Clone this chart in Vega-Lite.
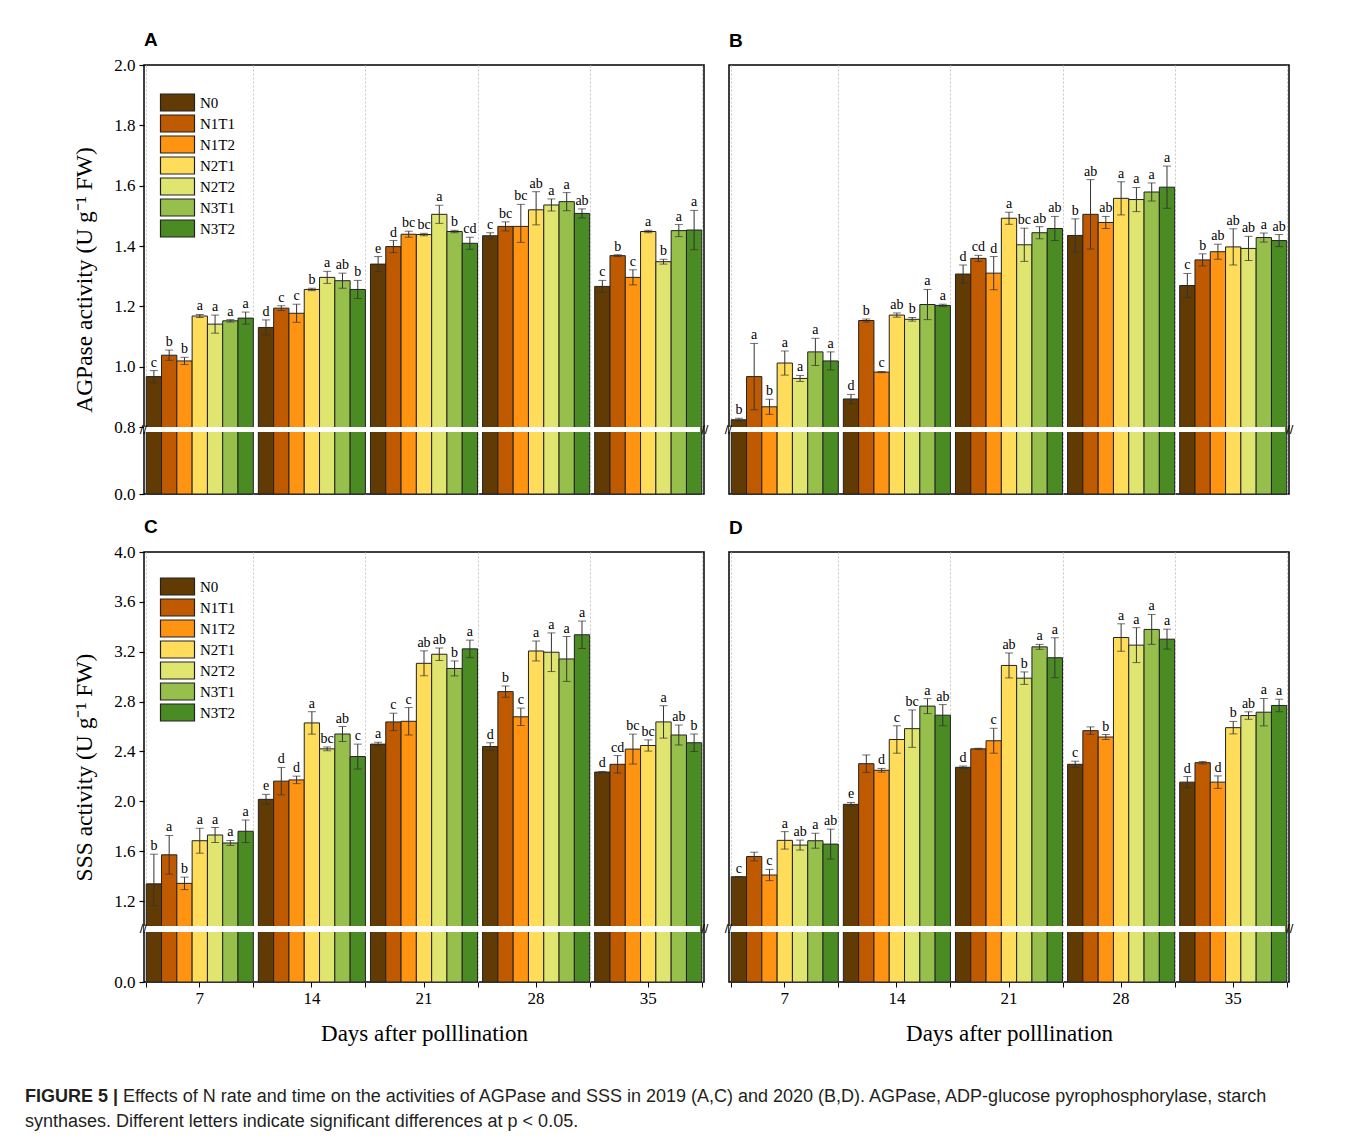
{
"$schema": "https://vega.github.io/schema/vega-lite/v6.json",
"padding": {"left": 25, "top": 30, "right": 5, "bottom": 5},
"config": {"view": {"stroke": "black", "strokeWidth": 1.5}, "font": "Liberation Serif"},
"title": {"text": "FIGURE 5 |", "orient": "bottom", "anchor": "start", "frame": "bounds", "font": "Liberation Sans", "fontSize": 18, "fontWeight": "bold", "color": "#231f20", "offset": 0, "dy": -43, "dx": 0},
"resolve": {"scale": {"y": "independent", "x": "independent", "xOffset": "independent"}, "legend": {"color": "independent"}},
"datasets": {"bars": [
{"p":"A","d":"7","t":"N0","v":0.967,"lo":0.947,"hi":0.987,"l":"c"},
{"p":"A","d":"7","t":"N1T1","v":1.038,"lo":1.021,"hi":1.055,"l":"b"},
{"p":"A","d":"7","t":"N1T2","v":1.019,"lo":1.007,"hi":1.031,"l":"b"},
{"p":"A","d":"7","t":"N2T1","v":1.168,"lo":1.163,"hi":1.173,"l":"a"},
{"p":"A","d":"7","t":"N2T2","v":1.141,"lo":1.111,"hi":1.171,"l":"a"},
{"p":"A","d":"7","t":"N3T1","v":1.152,"lo":1.148,"hi":1.156,"l":"a"},
{"p":"A","d":"7","t":"N3T2","v":1.161,"lo":1.141,"hi":1.181,"l":"a"},
{"p":"A","d":"14","t":"N0","v":1.130,"lo":1.105,"hi":1.155,"l":"d"},
{"p":"A","d":"14","t":"N1T1","v":1.194,"lo":1.186,"hi":1.202,"l":"c"},
{"p":"A","d":"14","t":"N1T2","v":1.177,"lo":1.147,"hi":1.207,"l":"c"},
{"p":"A","d":"14","t":"N2T1","v":1.256,"lo":1.252,"hi":1.260,"l":"b"},
{"p":"A","d":"14","t":"N2T2","v":1.296,"lo":1.276,"hi":1.316,"l":"a"},
{"p":"A","d":"14","t":"N3T1","v":1.285,"lo":1.260,"hi":1.310,"l":"ab"},
{"p":"A","d":"14","t":"N3T2","v":1.256,"lo":1.226,"hi":1.286,"l":"b"},
{"p":"A","d":"21","t":"N0","v":1.340,"lo":1.315,"hi":1.365,"l":"e"},
{"p":"A","d":"21","t":"N1T1","v":1.398,"lo":1.378,"hi":1.418,"l":"d"},
{"p":"A","d":"21","t":"N1T2","v":1.439,"lo":1.429,"hi":1.449,"l":"bc"},
{"p":"A","d":"21","t":"N2T1","v":1.438,"lo":1.434,"hi":1.442,"l":"bc"},
{"p":"A","d":"21","t":"N2T2","v":1.505,"lo":1.475,"hi":1.535,"l":"a"},
{"p":"A","d":"21","t":"N3T1","v":1.448,"lo":1.444,"hi":1.452,"l":"b"},
{"p":"A","d":"21","t":"N3T2","v":1.409,"lo":1.389,"hi":1.429,"l":"cd"},
{"p":"A","d":"28","t":"N0","v":1.434,"lo":1.424,"hi":1.444,"l":"c"},
{"p":"A","d":"28","t":"N1T1","v":1.465,"lo":1.450,"hi":1.480,"l":"bc"},
{"p":"A","d":"28","t":"N1T2","v":1.465,"lo":1.412,"hi":1.538,"l":"bc"},
{"p":"A","d":"28","t":"N2T1","v":1.520,"lo":1.470,"hi":1.580,"l":"ab"},
{"p":"A","d":"28","t":"N2T2","v":1.536,"lo":1.516,"hi":1.556,"l":"a"},
{"p":"A","d":"28","t":"N3T1","v":1.547,"lo":1.517,"hi":1.577,"l":"a"},
{"p":"A","d":"28","t":"N3T2","v":1.508,"lo":1.493,"hi":1.523,"l":"ab"},
{"p":"A","d":"35","t":"N0","v":1.266,"lo":1.246,"hi":1.286,"l":"c"},
{"p":"A","d":"35","t":"N1T1","v":1.368,"lo":1.365,"hi":1.371,"l":"b"},
{"p":"A","d":"35","t":"N1T2","v":1.296,"lo":1.271,"hi":1.321,"l":"c"},
{"p":"A","d":"35","t":"N2T1","v":1.448,"lo":1.444,"hi":1.452,"l":"a"},
{"p":"A","d":"35","t":"N2T2","v":1.348,"lo":1.340,"hi":1.356,"l":"b"},
{"p":"A","d":"35","t":"N3T1","v":1.451,"lo":1.431,"hi":1.471,"l":"a"},
{"p":"A","d":"35","t":"N3T2","v":1.453,"lo":1.388,"hi":1.518,"l":"a"},
{"p":"B","d":"7","t":"N0","v":0.824,"lo":0.819,"hi":0.829,"l":"b"},
{"p":"B","d":"7","t":"N1T1","v":0.967,"lo":0.857,"hi":1.077,"l":"a"},
{"p":"B","d":"7","t":"N1T2","v":0.867,"lo":0.842,"hi":0.892,"l":"b"},
{"p":"B","d":"7","t":"N2T1","v":1.012,"lo":0.972,"hi":1.052,"l":"a"},
{"p":"B","d":"7","t":"N2T2","v":0.961,"lo":0.951,"hi":0.971,"l":"a"},
{"p":"B","d":"7","t":"N3T1","v":1.049,"lo":1.004,"hi":1.094,"l":"a"},
{"p":"B","d":"7","t":"N3T2","v":1.019,"lo":0.989,"hi":1.049,"l":"a"},
{"p":"B","d":"14","t":"N0","v":0.893,"lo":0.878,"hi":0.908,"l":"d"},
{"p":"B","d":"14","t":"N1T1","v":1.153,"lo":1.148,"hi":1.158,"l":"b"},
{"p":"B","d":"14","t":"N1T2","v":0.982,"lo":0.980,"hi":0.984,"l":"c"},
{"p":"B","d":"14","t":"N2T1","v":1.171,"lo":1.164,"hi":1.178,"l":"ab"},
{"p":"B","d":"14","t":"N2T2","v":1.157,"lo":1.151,"hi":1.163,"l":"b"},
{"p":"B","d":"14","t":"N3T1","v":1.206,"lo":1.156,"hi":1.256,"l":"a"},
{"p":"B","d":"14","t":"N3T2","v":1.203,"lo":1.199,"hi":1.207,"l":"a"},
{"p":"B","d":"21","t":"N0","v":1.307,"lo":1.277,"hi":1.337,"l":"d"},
{"p":"B","d":"21","t":"N1T1","v":1.359,"lo":1.349,"hi":1.369,"l":"cd"},
{"p":"B","d":"21","t":"N1T2","v":1.310,"lo":1.255,"hi":1.365,"l":"d"},
{"p":"B","d":"21","t":"N2T1","v":1.492,"lo":1.472,"hi":1.512,"l":"a"},
{"p":"B","d":"21","t":"N2T2","v":1.404,"lo":1.349,"hi":1.459,"l":"bc"},
{"p":"B","d":"21","t":"N3T1","v":1.444,"lo":1.424,"hi":1.464,"l":"ab"},
{"p":"B","d":"21","t":"N3T2","v":1.458,"lo":1.418,"hi":1.498,"l":"ab"},
{"p":"B","d":"28","t":"N0","v":1.435,"lo":1.380,"hi":1.490,"l":"b"},
{"p":"B","d":"28","t":"N1T1","v":1.505,"lo":1.390,"hi":1.620,"l":"ab"},
{"p":"B","d":"28","t":"N1T2","v":1.478,"lo":1.458,"hi":1.498,"l":"ab"},
{"p":"B","d":"28","t":"N2T1","v":1.558,"lo":1.503,"hi":1.613,"l":"a"},
{"p":"B","d":"28","t":"N2T2","v":1.554,"lo":1.514,"hi":1.594,"l":"a"},
{"p":"B","d":"28","t":"N3T1","v":1.579,"lo":1.549,"hi":1.609,"l":"a"},
{"p":"B","d":"28","t":"N3T2","v":1.595,"lo":1.525,"hi":1.665,"l":"a"},
{"p":"B","d":"35","t":"N0","v":1.269,"lo":1.229,"hi":1.309,"l":"c"},
{"p":"B","d":"35","t":"N1T1","v":1.354,"lo":1.334,"hi":1.374,"l":"b"},
{"p":"B","d":"35","t":"N1T2","v":1.381,"lo":1.356,"hi":1.406,"l":"ab"},
{"p":"B","d":"35","t":"N2T1","v":1.397,"lo":1.337,"hi":1.457,"l":"ab"},
{"p":"B","d":"35","t":"N2T2","v":1.392,"lo":1.352,"hi":1.432,"l":"ab"},
{"p":"B","d":"35","t":"N3T1","v":1.428,"lo":1.413,"hi":1.443,"l":"a"},
{"p":"B","d":"35","t":"N3T2","v":1.418,"lo":1.398,"hi":1.438,"l":"ab"},
{"p":"C","d":"7","t":"N0","v":1.338,"lo":1.164,"hi":1.576,"l":"b"},
{"p":"C","d":"7","t":"N1T1","v":1.571,"lo":1.416,"hi":1.726,"l":"a"},
{"p":"C","d":"7","t":"N1T2","v":1.342,"lo":1.292,"hi":1.392,"l":"b"},
{"p":"C","d":"7","t":"N2T1","v":1.684,"lo":1.584,"hi":1.784,"l":"a"},
{"p":"C","d":"7","t":"N2T2","v":1.730,"lo":1.670,"hi":1.790,"l":"a"},
{"p":"C","d":"7","t":"N3T1","v":1.666,"lo":1.646,"hi":1.686,"l":"a"},
{"p":"C","d":"7","t":"N3T2","v":1.760,"lo":1.670,"hi":1.850,"l":"a"},
{"p":"C","d":"14","t":"N0","v":2.016,"lo":1.976,"hi":2.056,"l":"e"},
{"p":"C","d":"14","t":"N1T1","v":2.162,"lo":2.052,"hi":2.272,"l":"d"},
{"p":"C","d":"14","t":"N1T2","v":2.172,"lo":2.142,"hi":2.202,"l":"d"},
{"p":"C","d":"14","t":"N2T1","v":2.629,"lo":2.539,"hi":2.719,"l":"a"},
{"p":"C","d":"14","t":"N2T2","v":2.421,"lo":2.406,"hi":2.436,"l":"bc"},
{"p":"C","d":"14","t":"N3T1","v":2.540,"lo":2.480,"hi":2.600,"l":"ab"},
{"p":"C","d":"14","t":"N3T2","v":2.359,"lo":2.259,"hi":2.459,"l":"c"},
{"p":"C","d":"21","t":"N0","v":2.459,"lo":2.444,"hi":2.474,"l":"a"},
{"p":"C","d":"21","t":"N1T1","v":2.637,"lo":2.567,"hi":2.707,"l":"c"},
{"p":"C","d":"21","t":"N1T2","v":2.642,"lo":2.532,"hi":2.752,"l":"c"},
{"p":"C","d":"21","t":"N2T1","v":3.107,"lo":3.007,"hi":3.207,"l":"ab"},
{"p":"C","d":"21","t":"N2T2","v":3.180,"lo":3.130,"hi":3.230,"l":"ab"},
{"p":"C","d":"21","t":"N3T1","v":3.066,"lo":3.006,"hi":3.126,"l":"b"},
{"p":"C","d":"21","t":"N3T2","v":3.223,"lo":3.153,"hi":3.293,"l":"a"},
{"p":"C","d":"28","t":"N0","v":2.440,"lo":2.410,"hi":2.470,"l":"d"},
{"p":"C","d":"28","t":"N1T1","v":2.880,"lo":2.835,"hi":2.925,"l":"b"},
{"p":"C","d":"28","t":"N1T2","v":2.678,"lo":2.608,"hi":2.748,"l":"c"},
{"p":"C","d":"28","t":"N2T1","v":3.206,"lo":3.126,"hi":3.286,"l":"a"},
{"p":"C","d":"28","t":"N2T2","v":3.196,"lo":3.041,"hi":3.351,"l":"a"},
{"p":"C","d":"28","t":"N3T1","v":3.142,"lo":2.962,"hi":3.322,"l":"a"},
{"p":"C","d":"28","t":"N3T2","v":3.336,"lo":3.226,"hi":3.446,"l":"a"},
{"p":"C","d":"35","t":"N0","v":2.235,"lo":2.230,"hi":2.240,"l":"d"},
{"p":"C","d":"35","t":"N1T1","v":2.297,"lo":2.227,"hi":2.367,"l":"cd"},
{"p":"C","d":"35","t":"N1T2","v":2.419,"lo":2.299,"hi":2.539,"l":"bc"},
{"p":"C","d":"35","t":"N2T1","v":2.448,"lo":2.403,"hi":2.493,"l":"bc"},
{"p":"C","d":"35","t":"N2T2","v":2.637,"lo":2.507,"hi":2.767,"l":"a"},
{"p":"C","d":"35","t":"N3T1","v":2.532,"lo":2.452,"hi":2.612,"l":"ab"},
{"p":"C","d":"35","t":"N3T2","v":2.470,"lo":2.400,"hi":2.540,"l":"b"},
{"p":"D","d":"7","t":"N0","v":1.395,"lo":1.393,"hi":1.397,"l":"c"},
{"p":"D","d":"7","t":"N1T1","v":1.557,"lo":1.522,"hi":1.592,"l":""},
{"p":"D","d":"7","t":"N1T2","v":1.409,"lo":1.364,"hi":1.454,"l":"c"},
{"p":"D","d":"7","t":"N2T1","v":1.687,"lo":1.617,"hi":1.757,"l":"a"},
{"p":"D","d":"7","t":"N2T2","v":1.649,"lo":1.609,"hi":1.689,"l":"ab"},
{"p":"D","d":"7","t":"N3T1","v":1.684,"lo":1.624,"hi":1.744,"l":"a"},
{"p":"D","d":"7","t":"N3T2","v":1.657,"lo":1.537,"hi":1.777,"l":"ab"},
{"p":"D","d":"14","t":"N0","v":1.976,"lo":1.961,"hi":1.991,"l":"e"},
{"p":"D","d":"14","t":"N1T1","v":2.302,"lo":2.232,"hi":2.372,"l":""},
{"p":"D","d":"14","t":"N1T2","v":2.249,"lo":2.234,"hi":2.264,"l":"d"},
{"p":"D","d":"14","t":"N2T1","v":2.496,"lo":2.386,"hi":2.606,"l":"c"},
{"p":"D","d":"14","t":"N2T2","v":2.583,"lo":2.433,"hi":2.733,"l":"bc"},
{"p":"D","d":"14","t":"N3T1","v":2.764,"lo":2.704,"hi":2.824,"l":"a"},
{"p":"D","d":"14","t":"N3T2","v":2.691,"lo":2.606,"hi":2.776,"l":"ab"},
{"p":"D","d":"21","t":"N0","v":2.273,"lo":2.263,"hi":2.283,"l":"d"},
{"p":"D","d":"21","t":"N1T1","v":2.421,"lo":2.416,"hi":2.426,"l":""},
{"p":"D","d":"21","t":"N1T2","v":2.486,"lo":2.386,"hi":2.586,"l":"c"},
{"p":"D","d":"21","t":"N2T1","v":3.090,"lo":2.990,"hi":3.190,"l":"ab"},
{"p":"D","d":"21","t":"N2T2","v":2.988,"lo":2.938,"hi":3.038,"l":"b"},
{"p":"D","d":"21","t":"N3T1","v":3.239,"lo":3.219,"hi":3.259,"l":"a"},
{"p":"D","d":"21","t":"N3T2","v":3.152,"lo":2.992,"hi":3.312,"l":"a"},
{"p":"D","d":"28","t":"N0","v":2.297,"lo":2.272,"hi":2.322,"l":"c"},
{"p":"D","d":"28","t":"N1T1","v":2.567,"lo":2.537,"hi":2.597,"l":""},
{"p":"D","d":"28","t":"N1T2","v":2.516,"lo":2.496,"hi":2.536,"l":"b"},
{"p":"D","d":"28","t":"N2T1","v":3.314,"lo":3.204,"hi":3.424,"l":"a"},
{"p":"D","d":"28","t":"N2T2","v":3.253,"lo":3.113,"hi":3.393,"l":"a"},
{"p":"D","d":"28","t":"N3T1","v":3.379,"lo":3.259,"hi":3.499,"l":"a"},
{"p":"D","d":"28","t":"N3T2","v":3.301,"lo":3.221,"hi":3.381,"l":"a"},
{"p":"D","d":"35","t":"N0","v":2.154,"lo":2.109,"hi":2.199,"l":"d"},
{"p":"D","d":"35","t":"N1T1","v":2.310,"lo":2.300,"hi":2.320,"l":""},
{"p":"D","d":"35","t":"N1T2","v":2.154,"lo":2.104,"hi":2.204,"l":"d"},
{"p":"D","d":"35","t":"N2T1","v":2.591,"lo":2.541,"hi":2.641,"l":"b"},
{"p":"D","d":"35","t":"N2T2","v":2.688,"lo":2.658,"hi":2.718,"l":"ab"},
{"p":"D","d":"35","t":"N3T1","v":2.715,"lo":2.605,"hi":2.825,"l":"a"},
{"p":"D","d":"35","t":"N3T2","v":2.769,"lo":2.719,"hi":2.819,"l":"a"}
]},
"vconcat": [
{
"title": {"text": "synthases. Different letters indicate significant differences at p < 0.05.", "orient": "bottom", "anchor": "start", "frame": "bounds", "font": "Liberation Sans", "fontSize": 18, "fontWeight": "normal", "color": "#231f20", "offset": 7, "dx": -47},
"resolve": {"scale": {"y": "independent", "x": "independent", "xOffset": "independent"}, "legend": {"color": "independent"}},
"vconcat": [
{
"title": {"text": "Effects of N rate and time on the activities of AGPase and SSS in 2019 (A,C) and 2020 (B,D). AGPase, ADP-glucose pyrophosphorylase, starch", "orient": "bottom", "anchor": "start", "frame": "bounds", "font": "Liberation Sans", "fontSize": 18, "fontWeight": "normal", "color": "#231f20", "offset": 42, "dx": 51},
"resolve": {"scale": {"y": "independent", "x": "independent", "xOffset": "independent"}, "legend": {"color": "independent"}},
"spacing": 14,
"vconcat": [
{"hconcat": [
{
"width": 560, "height": 429,
"title": {"text": "A", "anchor": "start", "frame": "group", "font": "Liberation Sans", "fontSize": 19, "fontWeight": "bold", "color": "black", "offset": 6},
"data": {"name": "bars"},
"transform": [{"filter": "datum.p == 'A'"}],
"resolve": {"axis": {"x": "independent", "y": "independent"}},
"layer": [
{"mark": {"type": "bar", "stroke": "#222222", "strokeWidth": 1},
 "encoding": {
  "x": {"field": "d", "type": "nominal", "scale": {"domain": ["7","14","21","28","35"], "paddingInner": 0.045, "paddingOuter": 0.02}, "axis": {"title": null, "labels": false, "ticks": false, "domain": false, "grid": true, "tickBand": "extent", "gridColor": "#c8c8c8", "gridDash": [2,2], "gridWidth": 1}},
  "xOffset": {"field": "t", "type": "nominal", "scale": {"domain": ["N0","N1T1","N1T2","N2T1","N2T2","N3T1","N3T2"], "paddingInner": 0, "paddingOuter": 0}},
  "y": {"field": "v", "type": "quantitative", "scale": {"domain": [0, 0.7, 0.8, 2.0], "range": [429, 367, 362, 0], "nice": false, "zero": false}, "axis": {"orient": "left", "title": "AGPase activity (U g⁻¹ FW)", "values": [0, 0.8, 1.0, 1.2, 1.4, 1.6, 1.8, 2.0], "format": ".1f", "grid": false, "domain": false, "tickSize": 5, "tickColor": "black", "tickWidth": 1.2, "labelFont": "Liberation Serif", "labelFontSize": 17, "labelColor": "black", "labelPadding": 4, "titleFont": "Liberation Serif", "titleFontSize": 23.5, "titleFontWeight": "normal", "titleColor": "black", "titlePadding": 17}},
  "color": {"field": "t", "type": "nominal", "scale": {"domain": ["N0","N1T1","N1T2","N2T1","N2T2","N3T1","N3T2"], "range": ["#623a04","#c05a00","#ff9412","#ffdd5a","#e0e570","#96bf4c","#4a8b24"]}, "legend": {"title": null, "orient": "none", "legendX": 24, "legendY": 28, "symbolType": "M-2,-1H2V1H-2Z", "symbolSize": 289, "symbolStrokeColor": "#222222", "symbolStrokeWidth": 1.2, "symbolOpacity": 1, "labelFont": "Liberation Serif", "labelFontSize": 15, "labelColor": "black", "labelOffset": 13, "rowPadding": -4}}
 }},
{"mark": {"type": "rule", "color": "#333333", "strokeWidth": 1},
 "encoding": {"x": {"field": "d", "type": "nominal", "scale": {"domain": ["7","14","21","28","35"]}, "axis": null}, "xOffset": {"field": "t", "type": "nominal", "scale": {"domain": ["N0","N1T1","N1T2","N2T1","N2T2","N3T1","N3T2"]}}, "y": {"field": "lo", "type": "quantitative", "axis": null}, "y2": {"field": "hi"}}},
{"mark": {"type": "tick", "color": "#333333", "size": 8, "thickness": 1},
 "encoding": {"x": {"field": "d", "type": "nominal", "scale": {"domain": ["7","14","21","28","35"]}, "axis": null}, "xOffset": {"field": "t", "type": "nominal", "scale": {"domain": ["N0","N1T1","N1T2","N2T1","N2T2","N3T1","N3T2"]}}, "y": {"field": "lo", "type": "quantitative", "axis": null}}},
{"mark": {"type": "tick", "color": "#333333", "size": 8, "thickness": 1},
 "encoding": {"x": {"field": "d", "type": "nominal", "scale": {"domain": ["7","14","21","28","35"]}, "axis": null}, "xOffset": {"field": "t", "type": "nominal", "scale": {"domain": ["N0","N1T1","N1T2","N2T1","N2T2","N3T1","N3T2"]}}, "y": {"field": "hi", "type": "quantitative", "axis": null}}},
{"mark": {"type": "text", "baseline": "alphabetic", "dy": -4, "font": "Liberation Serif", "fontSize": 14, "color": "black"},
 "encoding": {"x": {"field": "d", "type": "nominal", "scale": {"domain": ["7","14","21","28","35"]}, "axis": null}, "xOffset": {"field": "t", "type": "nominal", "scale": {"domain": ["N0","N1T1","N1T2","N2T1","N2T2","N3T1","N3T2"]}}, "y": {"field": "hi", "type": "quantitative", "axis": null}, "text": {"field": "l"}}},
{"data": {"values": [{}]}, "mark": {"type": "rect", "fill": "white", "xOffset": -4, "x2Offset": 4},
 "encoding": {"y": {"datum": 0.7, "type": "quantitative", "axis": null}, "y2": {"datum": 0.8}}},
{"data": {"values": [{}]}, "mark": {"type": "text", "text": "//", "font": "Liberation Sans", "fontSize": 13, "dx": -3, "baseline": "middle"},
 "encoding": {"x": {"datum": "7", "type": "nominal", "bandPosition": 0, "axis": null}, "y": {"datum": 0.75, "type": "quantitative", "axis": null}}},
{"data": {"values": [{}]}, "mark": {"type": "text", "text": "//", "font": "Liberation Sans", "fontSize": 13, "dx": 3, "baseline": "middle"},
 "encoding": {"x": {"datum": "35", "type": "nominal", "bandPosition": 1, "axis": null}, "y": {"datum": 0.75, "type": "quantitative", "axis": null}}}
]
},
{
"width": 560, "height": 429,
"title": {"text": "B", "anchor": "start", "frame": "group", "font": "Liberation Sans", "fontSize": 19, "fontWeight": "bold", "color": "black", "offset": 14},
"data": {"name": "bars"},
"transform": [{"filter": "datum.p == 'B'"}],
"resolve": {"axis": {"x": "independent", "y": "independent"}},
"layer": [
{"mark": {"type": "bar", "stroke": "#222222", "strokeWidth": 1},
 "encoding": {
  "x": {"field": "d", "type": "nominal", "scale": {"domain": ["7","14","21","28","35"], "paddingInner": 0.045, "paddingOuter": 0.02}, "axis": {"title": null, "labels": false, "ticks": false, "domain": false, "grid": true, "tickBand": "extent", "gridColor": "#c8c8c8", "gridDash": [2,2], "gridWidth": 1}},
  "xOffset": {"field": "t", "type": "nominal", "scale": {"domain": ["N0","N1T1","N1T2","N2T1","N2T2","N3T1","N3T2"], "paddingInner": 0, "paddingOuter": 0}},
  "y": {"field": "v", "type": "quantitative", "scale": {"domain": [0, 0.7, 0.8, 2.0], "range": [429, 367, 362, 0], "nice": false, "zero": false}, "axis": null},
  "color": {"field": "t", "type": "nominal", "scale": {"domain": ["N0","N1T1","N1T2","N2T1","N2T2","N3T1","N3T2"], "range": ["#623a04","#c05a00","#ff9412","#ffdd5a","#e0e570","#96bf4c","#4a8b24"]}, "legend": null}
 }},
{"mark": {"type": "rule", "color": "#333333", "strokeWidth": 1},
 "encoding": {"x": {"field": "d", "type": "nominal", "scale": {"domain": ["7","14","21","28","35"]}, "axis": null}, "xOffset": {"field": "t", "type": "nominal", "scale": {"domain": ["N0","N1T1","N1T2","N2T1","N2T2","N3T1","N3T2"]}}, "y": {"field": "lo", "type": "quantitative", "axis": null}, "y2": {"field": "hi"}}},
{"mark": {"type": "tick", "color": "#333333", "size": 8, "thickness": 1},
 "encoding": {"x": {"field": "d", "type": "nominal", "scale": {"domain": ["7","14","21","28","35"]}, "axis": null}, "xOffset": {"field": "t", "type": "nominal", "scale": {"domain": ["N0","N1T1","N1T2","N2T1","N2T2","N3T1","N3T2"]}}, "y": {"field": "lo", "type": "quantitative", "axis": null}}},
{"mark": {"type": "tick", "color": "#333333", "size": 8, "thickness": 1},
 "encoding": {"x": {"field": "d", "type": "nominal", "scale": {"domain": ["7","14","21","28","35"]}, "axis": null}, "xOffset": {"field": "t", "type": "nominal", "scale": {"domain": ["N0","N1T1","N1T2","N2T1","N2T2","N3T1","N3T2"]}}, "y": {"field": "hi", "type": "quantitative", "axis": null}}},
{"mark": {"type": "text", "baseline": "alphabetic", "dy": -4, "font": "Liberation Serif", "fontSize": 14, "color": "black"},
 "encoding": {"x": {"field": "d", "type": "nominal", "scale": {"domain": ["7","14","21","28","35"]}, "axis": null}, "xOffset": {"field": "t", "type": "nominal", "scale": {"domain": ["N0","N1T1","N1T2","N2T1","N2T2","N3T1","N3T2"]}}, "y": {"field": "hi", "type": "quantitative", "axis": null}, "text": {"field": "l"}}},
{"data": {"values": [{}]}, "mark": {"type": "rect", "fill": "white", "xOffset": -4, "x2Offset": 4},
 "encoding": {"y": {"datum": 0.7, "type": "quantitative", "axis": null}, "y2": {"datum": 0.8}}},
{"data": {"values": [{}]}, "mark": {"type": "text", "text": "//", "font": "Liberation Sans", "fontSize": 13, "dx": -3, "baseline": "middle"},
 "encoding": {"x": {"datum": "7", "type": "nominal", "bandPosition": 0, "axis": null}, "y": {"datum": 0.75, "type": "quantitative", "axis": null}}},
{"data": {"values": [{}]}, "mark": {"type": "text", "text": "//", "font": "Liberation Sans", "fontSize": 13, "dx": 3, "baseline": "middle"},
 "encoding": {"x": {"datum": "35", "type": "nominal", "bandPosition": 1, "axis": null}, "y": {"datum": 0.75, "type": "quantitative", "axis": null}}}
]
}
], "spacing": 13, "resolve": {"scale": {"y": "independent", "x": "independent", "xOffset": "independent"}, "legend": {"color": "independent"}}},
{"hconcat": [
{
"width": 560, "height": 430,
"title": {"text": "C", "anchor": "start", "frame": "group", "font": "Liberation Sans", "fontSize": 19, "fontWeight": "bold", "color": "black", "offset": 6},
"data": {"name": "bars"},
"transform": [{"filter": "datum.p == 'C'"}],
"resolve": {"axis": {"x": "independent", "y": "independent"}},
"layer": [
{"mark": {"type": "bar", "stroke": "#222222", "strokeWidth": 1},
 "encoding": {
  "x": {"field": "d", "type": "nominal", "scale": {"domain": ["7","14","21","28","35"], "paddingInner": 0.045, "paddingOuter": 0.02}, "axis": {"orient": "bottom", "title": "Days after polllination", "grid": false, "domain": false, "ticks": true, "tickSize": 5, "tickColor": "black", "labelAngle": 0, "labelFont": "Liberation Serif", "labelFontSize": 17, "labelColor": "black", "labelPadding": 3, "titleFont": "Liberation Serif", "titleFontSize": 23, "titleFontWeight": "normal", "titleColor": "black", "titlePadding": 16}},
  "xOffset": {"field": "t", "type": "nominal", "scale": {"domain": ["N0","N1T1","N1T2","N2T1","N2T2","N3T1","N3T2"], "paddingInner": 0, "paddingOuter": 0}},
  "y": {"field": "v", "type": "quantitative", "scale": {"domain": [0, 0.9, 1.0, 4.0], "range": [430, 380, 374, 0], "nice": false, "zero": false}, "axis": {"orient": "left", "title": "SSS activity (U g⁻¹ FW)", "values": [0, 1.2, 1.6, 2.0, 2.4, 2.8, 3.2, 3.6, 4.0], "format": ".1f", "grid": false, "domain": false, "tickSize": 5, "tickColor": "black", "tickWidth": 1.2, "labelFont": "Liberation Serif", "labelFontSize": 17, "labelColor": "black", "labelPadding": 4, "titleFont": "Liberation Serif", "titleFontSize": 23.5, "titleFontWeight": "normal", "titleColor": "black", "titlePadding": 17}},
  "color": {"field": "t", "type": "nominal", "scale": {"domain": ["N0","N1T1","N1T2","N2T1","N2T2","N3T1","N3T2"], "range": ["#623a04","#c05a00","#ff9412","#ffdd5a","#e0e570","#96bf4c","#4a8b24"]}, "legend": {"title": null, "orient": "none", "legendX": 24, "legendY": 25, "symbolType": "M-2,-1H2V1H-2Z", "symbolSize": 289, "symbolStrokeColor": "#222222", "symbolStrokeWidth": 1.2, "symbolOpacity": 1, "labelFont": "Liberation Serif", "labelFontSize": 15, "labelColor": "black", "labelOffset": 13, "rowPadding": -4}}
 }},
{"mark": {"type": "rule", "color": "#333333", "strokeWidth": 1},
 "encoding": {"x": {"field": "d", "type": "nominal", "scale": {"domain": ["7","14","21","28","35"]}, "axis": {"orient": "bottom", "title": null, "labels": false, "ticks": true, "tickSize": 5, "tickColor": "black", "domain": false, "grid": true, "tickBand": "extent", "gridColor": "#c8c8c8", "gridDash": [2,2], "gridWidth": 1}}, "xOffset": {"field": "t", "type": "nominal", "scale": {"domain": ["N0","N1T1","N1T2","N2T1","N2T2","N3T1","N3T2"]}}, "y": {"field": "lo", "type": "quantitative", "axis": null}, "y2": {"field": "hi"}}},
{"mark": {"type": "tick", "color": "#333333", "size": 8, "thickness": 1},
 "encoding": {"x": {"field": "d", "type": "nominal", "scale": {"domain": ["7","14","21","28","35"]}, "axis": null}, "xOffset": {"field": "t", "type": "nominal", "scale": {"domain": ["N0","N1T1","N1T2","N2T1","N2T2","N3T1","N3T2"]}}, "y": {"field": "lo", "type": "quantitative", "axis": null}}},
{"mark": {"type": "tick", "color": "#333333", "size": 8, "thickness": 1},
 "encoding": {"x": {"field": "d", "type": "nominal", "scale": {"domain": ["7","14","21","28","35"]}, "axis": null}, "xOffset": {"field": "t", "type": "nominal", "scale": {"domain": ["N0","N1T1","N1T2","N2T1","N2T2","N3T1","N3T2"]}}, "y": {"field": "hi", "type": "quantitative", "axis": null}}},
{"mark": {"type": "text", "baseline": "alphabetic", "dy": -4, "font": "Liberation Serif", "fontSize": 14, "color": "black"},
 "encoding": {"x": {"field": "d", "type": "nominal", "scale": {"domain": ["7","14","21","28","35"]}, "axis": null}, "xOffset": {"field": "t", "type": "nominal", "scale": {"domain": ["N0","N1T1","N1T2","N2T1","N2T2","N3T1","N3T2"]}}, "y": {"field": "hi", "type": "quantitative", "axis": null}, "text": {"field": "l"}}},
{"data": {"values": [{}]}, "mark": {"type": "rect", "fill": "white", "xOffset": -4, "x2Offset": 4},
 "encoding": {"y": {"datum": 0.9, "type": "quantitative", "axis": null}, "y2": {"datum": 1.0}}},
{"data": {"values": [{}]}, "mark": {"type": "text", "text": "//", "font": "Liberation Sans", "fontSize": 13, "dx": -3, "baseline": "middle"},
 "encoding": {"x": {"datum": "7", "type": "nominal", "bandPosition": 0, "axis": null}, "y": {"datum": 0.95, "type": "quantitative", "axis": null}}},
{"data": {"values": [{}]}, "mark": {"type": "text", "text": "//", "font": "Liberation Sans", "fontSize": 13, "dx": 3, "baseline": "middle"},
 "encoding": {"x": {"datum": "35", "type": "nominal", "bandPosition": 1, "axis": null}, "y": {"datum": 0.95, "type": "quantitative", "axis": null}}}
]
},
{
"width": 560, "height": 430,
"title": {"text": "D", "anchor": "start", "frame": "group", "font": "Liberation Sans", "fontSize": 19, "fontWeight": "bold", "color": "black", "offset": 14},
"data": {"name": "bars"},
"transform": [{"filter": "datum.p == 'D'"}],
"resolve": {"axis": {"x": "independent", "y": "independent"}},
"layer": [
{"mark": {"type": "bar", "stroke": "#222222", "strokeWidth": 1},
 "encoding": {
  "x": {"field": "d", "type": "nominal", "scale": {"domain": ["7","14","21","28","35"], "paddingInner": 0.045, "paddingOuter": 0.02}, "axis": {"orient": "bottom", "title": "Days after polllination", "grid": false, "domain": false, "ticks": true, "tickSize": 5, "tickColor": "black", "labelAngle": 0, "labelFont": "Liberation Serif", "labelFontSize": 17, "labelColor": "black", "labelPadding": 3, "titleFont": "Liberation Serif", "titleFontSize": 23, "titleFontWeight": "normal", "titleColor": "black", "titlePadding": 16}},
  "xOffset": {"field": "t", "type": "nominal", "scale": {"domain": ["N0","N1T1","N1T2","N2T1","N2T2","N3T1","N3T2"], "paddingInner": 0, "paddingOuter": 0}},
  "y": {"field": "v", "type": "quantitative", "scale": {"domain": [0, 0.9, 1.0, 4.0], "range": [430, 380, 374, 0], "nice": false, "zero": false}, "axis": null},
  "color": {"field": "t", "type": "nominal", "scale": {"domain": ["N0","N1T1","N1T2","N2T1","N2T2","N3T1","N3T2"], "range": ["#623a04","#c05a00","#ff9412","#ffdd5a","#e0e570","#96bf4c","#4a8b24"]}, "legend": null}
 }},
{"mark": {"type": "rule", "color": "#333333", "strokeWidth": 1},
 "encoding": {"x": {"field": "d", "type": "nominal", "scale": {"domain": ["7","14","21","28","35"]}, "axis": {"orient": "bottom", "title": null, "labels": false, "ticks": true, "tickSize": 5, "tickColor": "black", "domain": false, "grid": true, "tickBand": "extent", "gridColor": "#c8c8c8", "gridDash": [2,2], "gridWidth": 1}}, "xOffset": {"field": "t", "type": "nominal", "scale": {"domain": ["N0","N1T1","N1T2","N2T1","N2T2","N3T1","N3T2"]}}, "y": {"field": "lo", "type": "quantitative", "axis": null}, "y2": {"field": "hi"}}},
{"mark": {"type": "tick", "color": "#333333", "size": 8, "thickness": 1},
 "encoding": {"x": {"field": "d", "type": "nominal", "scale": {"domain": ["7","14","21","28","35"]}, "axis": null}, "xOffset": {"field": "t", "type": "nominal", "scale": {"domain": ["N0","N1T1","N1T2","N2T1","N2T2","N3T1","N3T2"]}}, "y": {"field": "lo", "type": "quantitative", "axis": null}}},
{"mark": {"type": "tick", "color": "#333333", "size": 8, "thickness": 1},
 "encoding": {"x": {"field": "d", "type": "nominal", "scale": {"domain": ["7","14","21","28","35"]}, "axis": null}, "xOffset": {"field": "t", "type": "nominal", "scale": {"domain": ["N0","N1T1","N1T2","N2T1","N2T2","N3T1","N3T2"]}}, "y": {"field": "hi", "type": "quantitative", "axis": null}}},
{"mark": {"type": "text", "baseline": "alphabetic", "dy": -4, "font": "Liberation Serif", "fontSize": 14, "color": "black"},
 "encoding": {"x": {"field": "d", "type": "nominal", "scale": {"domain": ["7","14","21","28","35"]}, "axis": null}, "xOffset": {"field": "t", "type": "nominal", "scale": {"domain": ["N0","N1T1","N1T2","N2T1","N2T2","N3T1","N3T2"]}}, "y": {"field": "hi", "type": "quantitative", "axis": null}, "text": {"field": "l"}}},
{"data": {"values": [{}]}, "mark": {"type": "rect", "fill": "white", "xOffset": -4, "x2Offset": 4},
 "encoding": {"y": {"datum": 0.9, "type": "quantitative", "axis": null}, "y2": {"datum": 1.0}}},
{"data": {"values": [{}]}, "mark": {"type": "text", "text": "//", "font": "Liberation Sans", "fontSize": 13, "dx": -3, "baseline": "middle"},
 "encoding": {"x": {"datum": "7", "type": "nominal", "bandPosition": 0, "axis": null}, "y": {"datum": 0.95, "type": "quantitative", "axis": null}}},
{"data": {"values": [{}]}, "mark": {"type": "text", "text": "//", "font": "Liberation Sans", "fontSize": 13, "dx": 3, "baseline": "middle"},
 "encoding": {"x": {"datum": "35", "type": "nominal", "bandPosition": 1, "axis": null}, "y": {"datum": 0.95, "type": "quantitative", "axis": null}}}
]
}
], "spacing": 13, "resolve": {"scale": {"y": "independent", "x": "independent", "xOffset": "independent"}, "legend": {"color": "independent"}}}
]
}
]
}
]
}
